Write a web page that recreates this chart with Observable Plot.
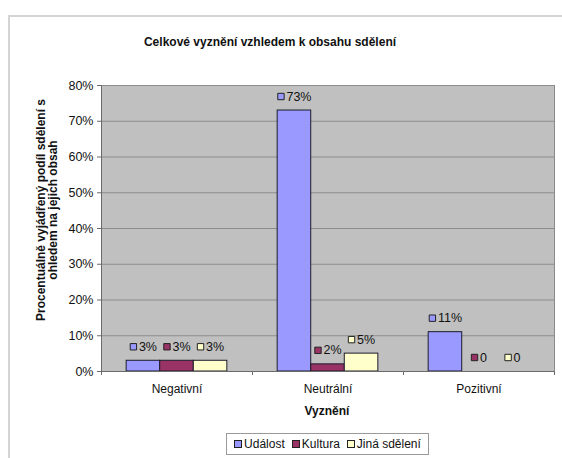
<!DOCTYPE html>
<html>
<head>
<meta charset="utf-8">
<script src="https://cdn.jsdelivr.net/npm/d3@7"></script>
<script src="https://cdn.jsdelivr.net/npm/@observablehq/plot@0.6"></script>
<style>
  body { margin: 0; background: #fff; }
  #chart { position: relative; width: 562px; height: 458px; overflow: hidden;
           font-family: "Liberation Sans", Arial, sans-serif; color: #111; }
  #outline { position: absolute; left: 8px; top: 15px; width: 700px; height: 600px;
             border-top: 2px solid #d4d4d4; border-left: 2px solid #d4d4d4; }
  #plot { position: absolute; left: 0; top: 0; }
  .title { position: absolute; left: 270px; top: 42px; transform: translate(-50%, -50%);
           font-weight: bold; font-size: 12px; white-space: nowrap; }
  .ylabel { position: absolute; left: 47px; top: 210px; transform: translate(-50%, -50%) rotate(-90deg);
            font-weight: bold; font-size: 12px; line-height: 12px; text-align: center; white-space: nowrap; }
  .xlabel { position: absolute; left: 327px; top: 411px; transform: translate(-50%, -50%);
            font-weight: bold; font-size: 12px; white-space: nowrap; }
  .legend { position: absolute; left: 226px; top: 433px; width: 201px; height: 20px;
            border: 1px solid #9a9a9a; display: flex; align-items: center; justify-content: center;
            gap: 7px; font-size: 12px; }
  .legend span.key { display: inline-block; width: 6px; height: 6px; border: 1px solid #222;
                     margin-right: 2px; vertical-align: 0px; }
</style>
</head>
<body>
<div id="chart">
  <div id="outline"></div>
  <div id="plot"></div>
  <div class="title" id="title"></div>
  <div class="ylabel" id="ylabel"></div>
  <div class="xlabel" id="xlabel"></div>
  <div class="legend" id="legend"></div>
</div>
<script>
// Categories (tone of the messages) and the three content types
const categories = ["Negativní", "Neutrální", "Pozitivní"];
const seriesNames = ["Událost", "Kultura", "Jiná sdělení"];

// Share of messages per tone, one array per content type
const udalost = [0.03, 0.73, 0.11];
const kultura = [0.03, 0.02, 0];
const jinaSdeleni = [0.03, 0.05, 0];

// Value axis ticks
const yTicks = [0, 0.1, 0.2, 0.3, 0.4, 0.5, 0.6, 0.7, 0.8];

const seriesColors = ["#9999ff", "#993366", "#ffffcc"];
const titleText = "Celkové vyznění vzhledem k obsahu sdělení";
const yLabelLines = ["Procentuálně vyjádřený podíl sdělení s", "ohledem na jejich obsah"];
const xLabelText = "Vyznění";

const pct = d3.format(".0%");
const labelOf = v => v === 0 ? "0" : pct(v);

// Build one row per bar; each category occupies one unit of x,
// its three bars fill the middle two thirds of that unit.
const seriesValues = [udalost, kultura, jinaSdeleni];
const rows = [];
categories.forEach((cat, g) => {
  seriesNames.forEach((name, s) => {
    const x1 = g + 1 / 6 + s * (2 / 9);
    rows.push({category: cat, series: name, s, value: seriesValues[s][g],
               x1, x2: x1 + 2 / 9, xc: x1 + 1 / 9});
  });
});

// Text measurement for centring the value labels with their colour keys
const ctx = document.createElement("canvas").getContext("2d");
const fontSize = 12.5;
ctx.font = `${fontSize}px "Liberation Sans", Arial, sans-serif`;
const keySide = 7, keyGap = 2;

const labelMarks = rows.flatMap(r => {
  const text = labelOf(r.value);
  const w = ctx.measureText(text).width;
  const total = keySide + keyGap + w;
  const start = -total / 2;
  return [
    Plot.dot([r], {x: "xc", y: "value", symbol: "square", r: 3.6,
                   fill: seriesColors[r.s], stroke: "#222", strokeWidth: 1,
                   dx: start + keySide / 2, dy: -14}),
    Plot.text([r], {x: "xc", y: "value", text: () => text, textAnchor: "start",
                    fill: "#111", fontSize, dx: start + keySide + keyGap, dy: -14})
  ];
});

const chart = Plot.plot({
  width: 562,
  height: 458,
  marginTop: 85,
  marginBottom: 87,
  marginLeft: 101,
  marginRight: 8,
  style: {fontFamily: '"Liberation Sans", Arial, sans-serif', fontSize: "12px",
          background: "transparent", color: "#111"},
  x: {domain: [0, 3], axis: null},
  y: {domain: [0, 0.8], axis: null},
  color: {domain: seriesNames, range: seriesColors},
  marks: [
    Plot.frame({fill: "#c0c0c0", stroke: "#8a8a8a"}),
    Plot.ruleY(yTicks.slice(1), {stroke: "#8c8c8c", strokeWidth: 1}),
    Plot.rectY(rows, {x1: "x1", x2: "x2", y: "value", fill: "series",
                      stroke: "#1c1c2c", strokeWidth: 1}),
    Plot.ruleX([0], {stroke: "#6a6a6a"}),
    Plot.ruleY([0], {stroke: "#6a6a6a"}),
    Plot.axisY({ticks: yTicks, tickFormat: pct, tickSize: 4, tickPadding: 4,
                label: null, stroke: "#6a6a6a", fill: "#111", fontSize: 12.5}),
    Plot.axisX({ticks: [0, 1, 2, 3], tickSize: 4, text: null, label: null, stroke: "#6a6a6a"}),
    Plot.axisX({ticks: [0.5, 1.5, 2.5], tickSize: 0, tickPadding: 13, label: null,
                tickFormat: d => categories[Math.floor(d)], fill: "#111"}),
    ...labelMarks
  ]
});
document.getElementById("plot").appendChild(chart);

document.getElementById("title").textContent = titleText;
document.getElementById("ylabel").innerHTML = yLabelLines.join("<br>");
document.getElementById("xlabel").textContent = xLabelText;

const legend = document.getElementById("legend");
seriesNames.forEach((name, i) => {
  const item = document.createElement("div");
  const key = document.createElement("span");
  key.className = "key";
  key.style.background = seriesColors[i];
  item.appendChild(key);
  item.appendChild(document.createTextNode(name));
  legend.appendChild(item);
});
</script>
</body>
</html>
